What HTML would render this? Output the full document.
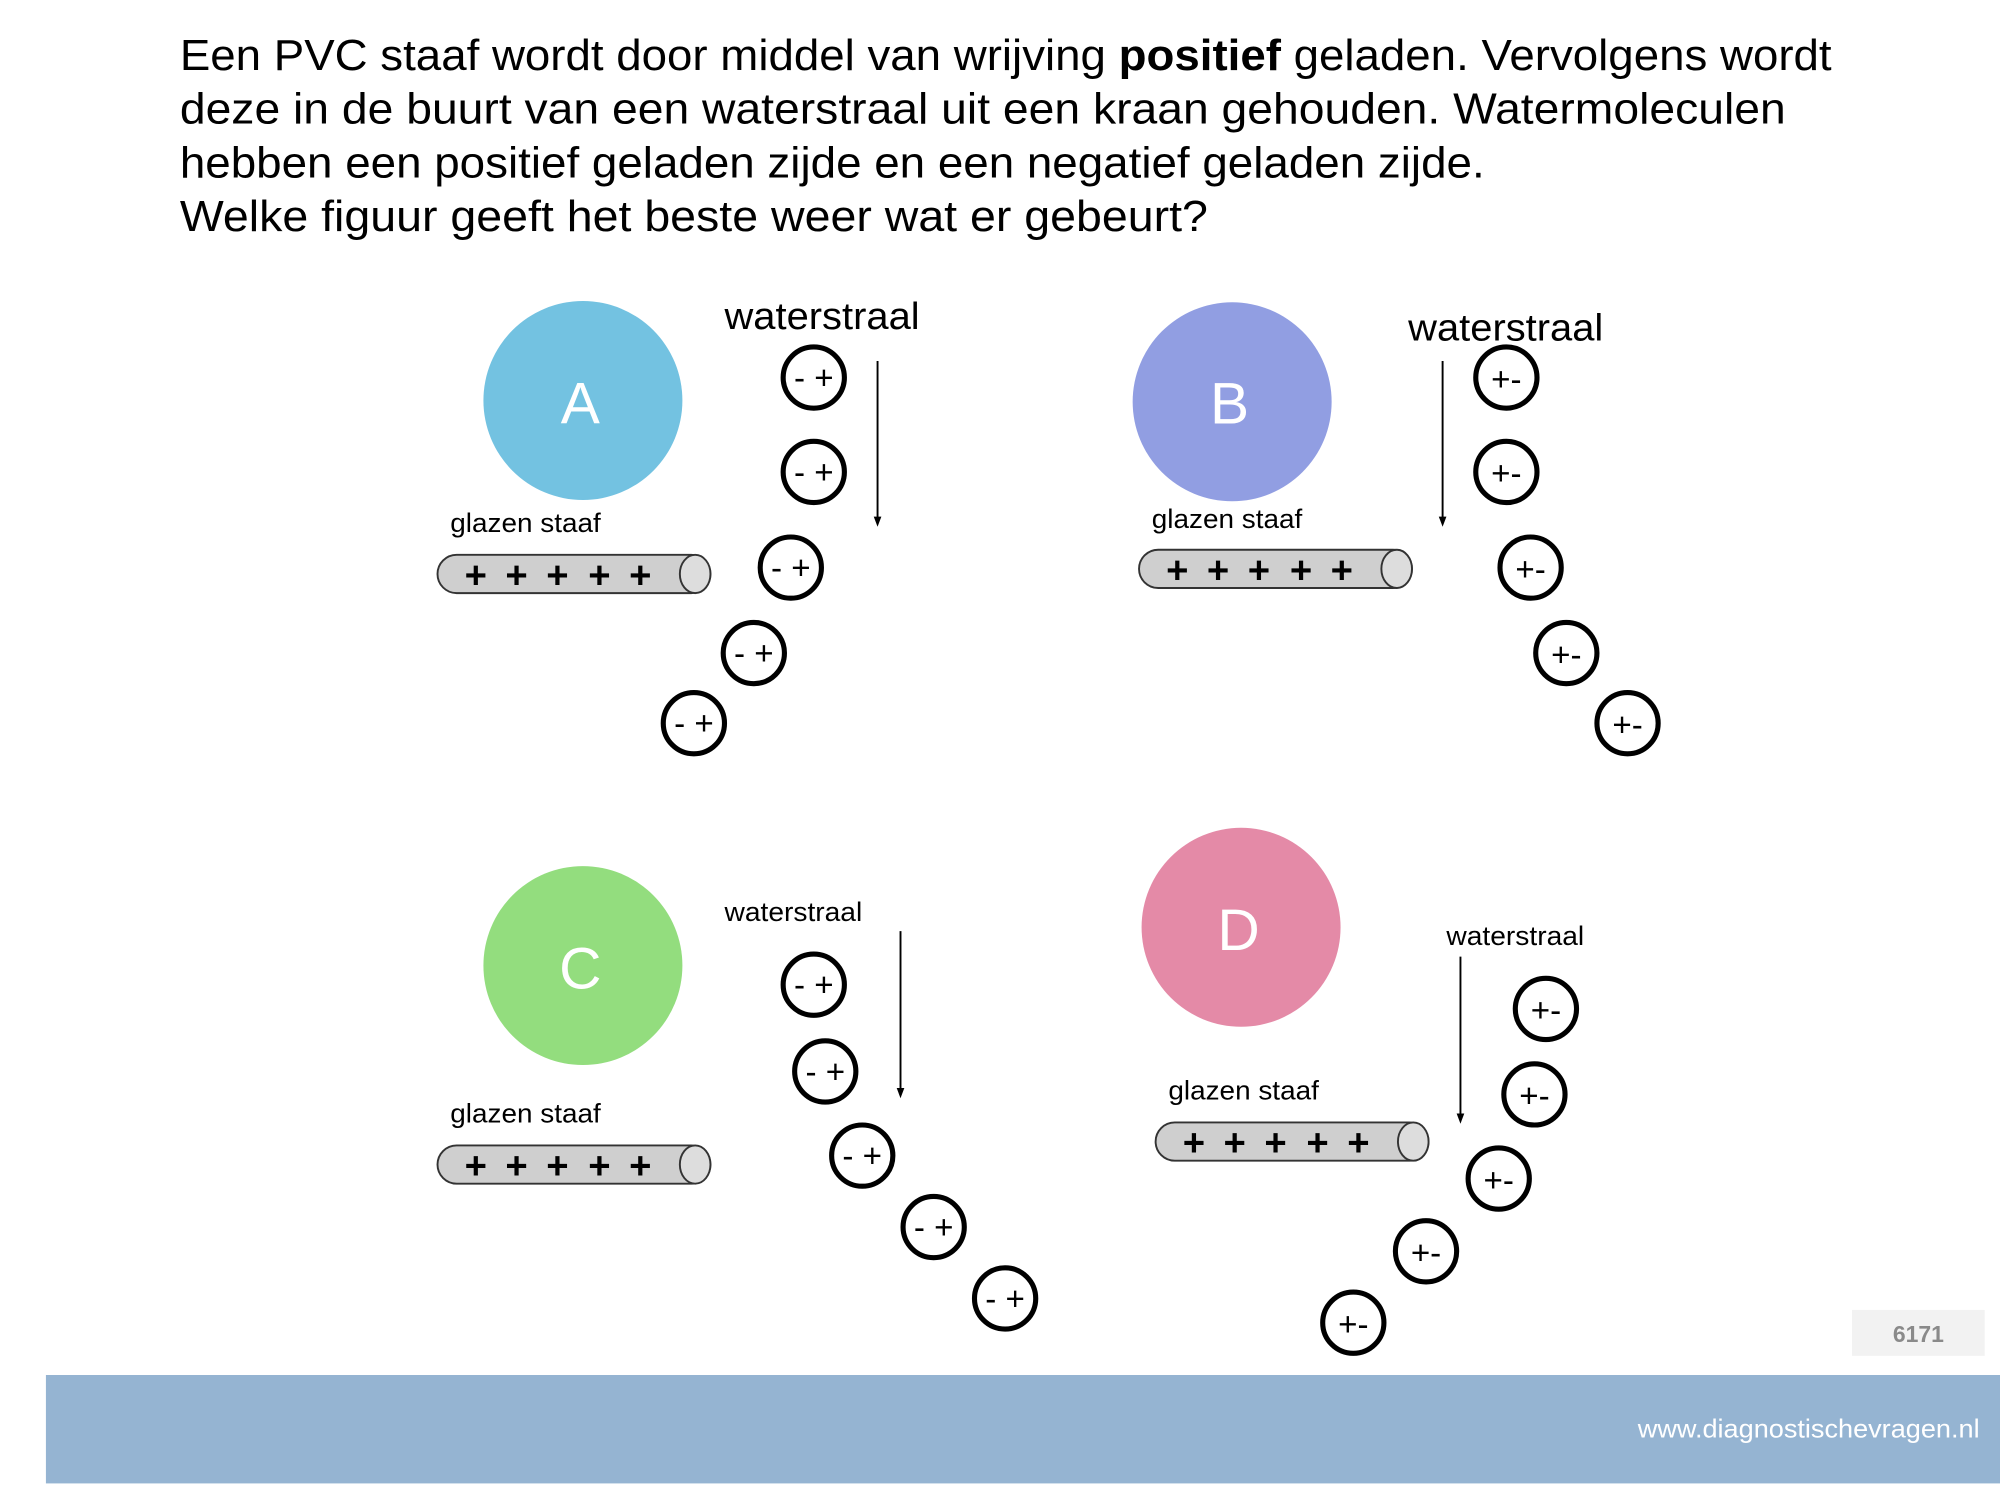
<!DOCTYPE html>
<html><head><meta charset="utf-8"><style>
html,body{margin:0;padding:0;background:#fff;}
svg{display:block;}
text{font-family:"Liberation Sans",sans-serif;}
</style></head><body>
<svg width="2000" height="1500" viewBox="0 0 1568 1176" preserveAspectRatio="none" xmlns="http://www.w3.org/2000/svg">
<defs>
<g id="rod">
<rect x="0" y="0" width="214" height="30" rx="15" fill="#cfcfcf" stroke="#333" stroke-width="1.5"/>
<ellipse cx="202" cy="15" rx="12" ry="15" fill="#ddd" stroke="#333" stroke-width="1.5"/>
<g font-size="30" font-weight="bold" text-anchor="middle"><text x="30" y="26">+</text><text x="62" y="26">+</text><text x="94" y="26">+</text><text x="127" y="26">+</text><text x="159" y="26">+</text></g>
</g>
<g id="mn"><circle r="24" fill="#fff" stroke="#000" stroke-width="4"/><text x="0" y="9" font-size="26" text-anchor="middle">-  +</text></g>
<g id="mp"><circle r="24" fill="#fff" stroke="#000" stroke-width="4"/><text x="0" y="10" font-size="26" text-anchor="middle">+-</text></g>
</defs>
<g font-size="34" fill="#000">
<text x="141" y="55" textLength="1295" lengthAdjust="spacingAndGlyphs">Een PVC staaf wordt door middel van wrijving <tspan font-weight="bold">positief</tspan> geladen. Vervolgens wordt</text>
<text x="141" y="97" textLength="1259" lengthAdjust="spacingAndGlyphs">deze in de buurt van een waterstraal uit een kraan gehouden. Watermoleculen</text>
<text x="141" y="139" textLength="1023" lengthAdjust="spacingAndGlyphs">hebben een positief geladen zijde en een negatief geladen zijde.</text>
<text x="141" y="181" textLength="806" lengthAdjust="spacingAndGlyphs">Welke figuur geeft het beste weer wat er gebeurt?</text>
</g>
<!-- A -->
<circle cx="457" cy="314" r="78" fill="#73c2e1"/>
<text x="455" y="332" font-size="46" fill="#fff" text-anchor="middle">A</text>
<text x="568" y="258" font-size="30" textLength="153" lengthAdjust="spacingAndGlyphs">waterstraal</text>
<line x1="688" y1="283" x2="688" y2="406" stroke="#000" stroke-width="1.5"/><path d="M685,405 L691,405 L688,413 Z"/>
<use href="#mn" x="638" y="296"/><use href="#mn" x="638" y="370"/><use href="#mn" x="620" y="445"/><use href="#mn" x="591" y="512"/><use href="#mn" x="544" y="567"/>
<text x="353" y="417" font-size="21" textLength="118" lengthAdjust="spacingAndGlyphs">glazen staaf</text>
<use href="#rod" x="343" y="435"/>
<!-- B -->
<circle cx="966" cy="315" r="78" fill="#919ee2"/>
<text x="964" y="332" font-size="46" fill="#fff" text-anchor="middle">B</text>
<text x="1104" y="267" font-size="30" textLength="153" lengthAdjust="spacingAndGlyphs">waterstraal</text>
<line x1="1131" y1="283" x2="1131" y2="406" stroke="#000" stroke-width="1.5"/><path d="M1128,405 L1134,405 L1131,413 Z"/>
<use href="#mp" x="1181" y="296"/><use href="#mp" x="1181" y="370"/><use href="#mp" x="1200" y="445"/><use href="#mp" x="1228" y="512"/><use href="#mp" x="1276" y="567"/>
<text x="903" y="414" font-size="21" textLength="118" lengthAdjust="spacingAndGlyphs">glazen staaf</text>
<use href="#rod" x="893" y="431"/>
<!-- C -->
<circle cx="457" cy="757" r="78" fill="#93dd7e"/>
<text x="455" y="775" font-size="46" fill="#fff" text-anchor="middle">C</text>
<text x="568" y="722" font-size="21" textLength="108" lengthAdjust="spacingAndGlyphs">waterstraal</text>
<line x1="706" y1="730" x2="706" y2="854" stroke="#000" stroke-width="1.5"/><path d="M703,853 L709,853 L706,861 Z"/>
<use href="#mn" x="638" y="772"/><use href="#mn" x="647" y="840"/><use href="#mn" x="676" y="906"/><use href="#mn" x="732" y="962"/><use href="#mn" x="788" y="1018"/>
<text x="353" y="880" font-size="21" textLength="118" lengthAdjust="spacingAndGlyphs">glazen staaf</text>
<use href="#rod" x="343" y="898"/>
<!-- D -->
<circle cx="973" cy="727" r="78" fill="#e48aa7"/>
<text x="971" y="745" font-size="46" fill="#fff" text-anchor="middle">D</text>
<text x="1134" y="741" font-size="21" textLength="108" lengthAdjust="spacingAndGlyphs">waterstraal</text>
<line x1="1145" y1="750" x2="1145" y2="874" stroke="#000" stroke-width="1.5"/><path d="M1142,873 L1148,873 L1145,881 Z"/>
<use href="#mp" x="1212" y="791"/><use href="#mp" x="1203" y="858"/><use href="#mp" x="1175" y="924"/><use href="#mp" x="1118" y="981"/><use href="#mp" x="1061" y="1037"/>
<text x="916" y="862" font-size="21" textLength="118" lengthAdjust="spacingAndGlyphs">glazen staaf</text>
<use href="#rod" x="906" y="880"/>
<!-- footer -->
<rect x="1452" y="1027" width="104" height="36" fill="#f2f2f2"/>
<text x="1504" y="1052" font-size="18" font-weight="bold" fill="#8a8a8a" text-anchor="middle">6171</text>
<rect x="36" y="1078" width="1532" height="85" fill="#95b4d2"/>
<text x="1284" y="1127" font-size="20" fill="#fff" textLength="268" lengthAdjust="spacingAndGlyphs">www.diagnostischevragen.nl</text>
</svg>
</body></html>
